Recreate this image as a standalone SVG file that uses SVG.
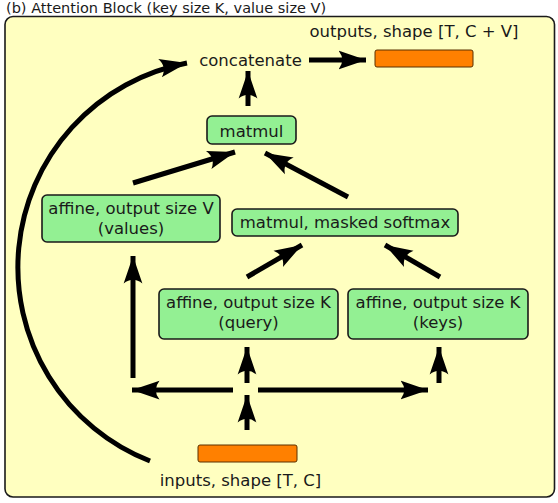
<svg xmlns="http://www.w3.org/2000/svg" width="558" height="503" viewBox="0 0 558 503">
<defs>
<marker id="ah" markerUnits="userSpaceOnUse" markerWidth="30" markerHeight="20" viewBox="-22 -8 24 16" refX="0" refY="0" orient="auto">
<path d="M0,0 L-22,-7.5 Q-16,0 -22,7.5 Z" fill="#000"/>
</marker>
<style>
text{font-family:"DejaVu Sans","Liberation Sans",sans-serif;fill:#1a1a1a}
.t{font-size:16.5px;text-anchor:middle}
.box{fill:#93f093;stroke:#1a1a1a;stroke-width:1.6}
.org{fill:#ff8000;stroke:#5a3000;stroke-width:1}
.c{stroke:#000;stroke-width:5;fill:none;marker-end:url(#ah)}
</style>
</defs>
<rect width="558" height="503" fill="#fff"/>
<text x="6" y="13" style="font-size:14.5px">(b) Attention Block (key size K, value size V)</text>
<rect x="5" y="16.5" width="549.5" height="480.5" rx="8" fill="#ffffc0" stroke="#1a1a1a" stroke-width="1.6"/>
<g id="outputs">
<text class="t" x="414" y="37">outputs, shape [T, C + V]</text>
<rect class="org" x="375" y="50" width="98" height="17" rx="2"/>
</g>
<g id="concatenate"><text class="t" x="250.5" y="66">concatenate</text></g>
<g id="matmul">
<rect class="box" x="207" y="116" width="89" height="28" rx="5"/>
<text class="t" x="251.5" y="137">matmul</text>
</g>
<g id="values">
<rect class="box" x="42" y="195" width="178" height="47" rx="5"/>
<text class="t" x="131" y="214">affine, output size V</text>
<text class="t" x="131" y="234">(values)</text>
</g>
<g id="softmax">
<rect class="box" x="232" y="209" width="226" height="27" rx="5"/>
<text class="t" x="345" y="228">matmul, masked softmax</text>
</g>
<g id="query">
<rect class="box" x="159" y="289" width="179" height="50" rx="5"/>
<text class="t" x="248.5" y="308">affine, output size K</text>
<text class="t" x="248.5" y="328">(query)</text>
</g>
<g id="keys">
<rect class="box" x="348" y="289" width="180" height="50" rx="5"/>
<text class="t" x="438" y="308">affine, output size K</text>
<text class="t" x="438" y="328">(keys)</text>
</g>
<g id="inputs">
<rect class="org" x="198" y="445" width="99" height="17" rx="2"/>
<text class="t" x="240.5" y="486">inputs, shape [T, C]</text>
</g>
<g id="connectors">
<path class="c" d="M247,430 V395"/>
<path class="c" d="M247,383 V347"/>
<path class="c" d="M233,390 H132"/>
<path class="c" d="M258,390 H428"/>
<path class="c" d="M439,383 V347"/>
<path class="c" d="M133,378 V256"/>
<path class="c" d="M247,277 L302,245"/>
<path class="c" d="M440,277 L385,245"/>
<path class="c" d="M133,183 L235,152"/>
<path class="c" d="M348,197 L265,153"/>
<path class="c" d="M248,106 V71"/>
<path class="c" d="M309,60 H366"/>
<path class="c" d="M150,461 A208,208 0 0 1 187,63"/>
</g>
</svg>
